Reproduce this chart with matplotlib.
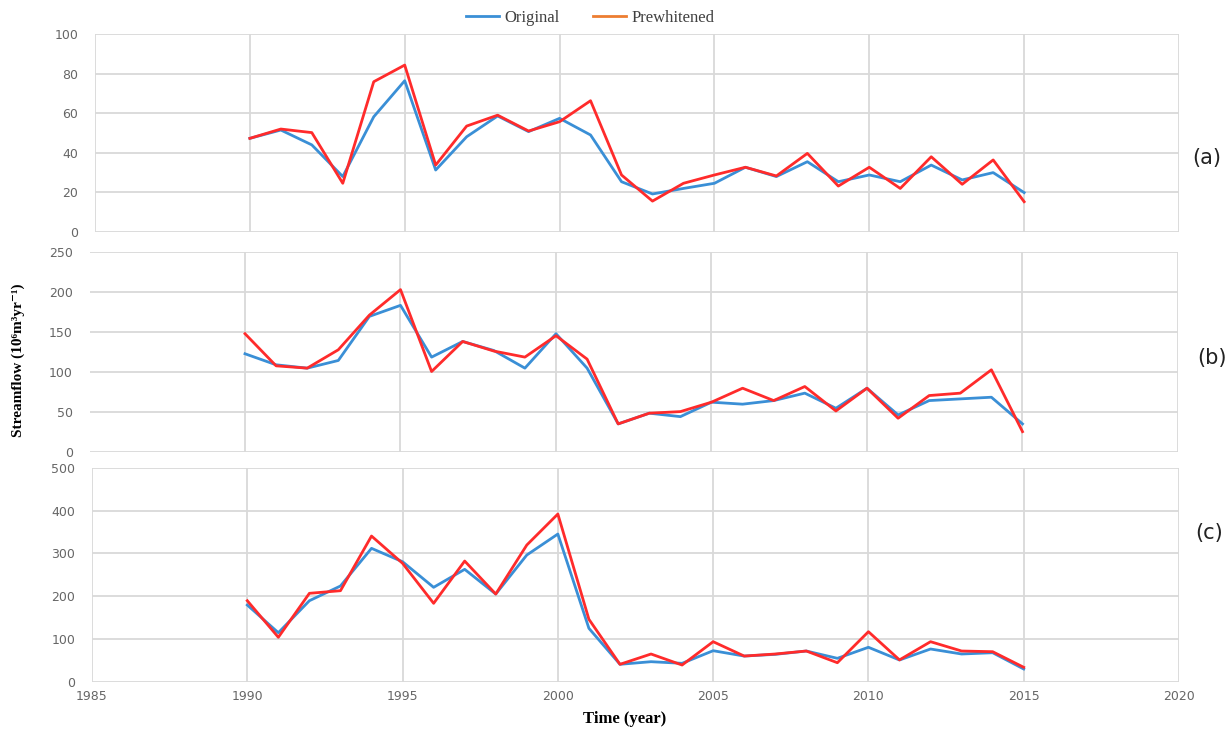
import matplotlib.pyplot as plt
from matplotlib.lines import Line2D

years = list(range(1990, 2016))

# (a)
a_original = [47.3, 51.5, 44.0, 28.0, 58.2, 76.4, 31.3, 48.1, 58.6, 50.7, 57.4, 49.0, 25.4,
              19.2, 22.0, 24.6, 32.7, 28.0, 35.5, 25.4, 28.8, 25.4, 33.8, 26.3, 30.0, 19.9]
a_prewhitened = [47.3, 52.0, 50.2, 24.6, 75.9, 84.3, 33.8, 53.5, 59.0, 51.0, 55.7, 66.3, 28.8,
                 15.6, 24.6, 28.8, 32.7, 28.3, 39.7, 23.2, 32.7, 22.0, 38.0, 24.1, 36.4, 15.3]
# (b)
b_original = [122.6, 108.8, 104.6, 114.2, 169.4, 183.2, 118.4, 138.0, 126.7, 104.6, 147.7, 104.6, 34.8,
              48.2, 43.9, 62.0, 59.5, 64.0, 73.3, 54.4, 79.5, 46.0, 64.0, 66.1, 68.2, 34.8]
b_prewhitened = [147.7, 107.5, 104.6, 127.6, 171.0, 202.9, 100.4, 138.0, 126.0, 118.4, 145.2, 115.9, 34.8,
                 48.2, 50.2, 62.0, 79.5, 64.0, 81.6, 51.0, 79.5, 41.9, 70.3, 73.3, 102.5, 25.1]
# (c)
c_original = [179.4, 114.6, 189.5, 223.9, 312.0, 280.7, 220.8, 262.9, 205.1, 296.4, 345.5, 124.9, 40.7,
              46.8, 43.0, 72.5, 60.0, 64.0, 71.8, 54.7, 80.5, 50.8, 76.5, 64.8, 67.8, 29.7]
c_prewhitened = [189.5, 103.9, 206.8, 212.9, 340.8, 277.0, 183.4, 282.3, 205.1, 319.8, 392.3, 146.0, 40.7,
                 64.8, 39.0, 93.6, 60.0, 64.8, 71.8, 44.4, 117.0, 51.0, 93.6, 71.8, 70.2, 33.7]

panel_labels = ['(a)', '(b)', '(c)']
y_limits = [(0, 100, 20), (0, 250, 50), (0, 500, 100)]
x_ticks = list(range(1985, 2021, 5))

blue = '#3a8fd6'
red = '#ff2b2b'
legend_orange = '#ed7d31'
grid_col = '#d9d9d9'
tick_col = '#666666'
serif = ['Liberation Serif', 'DejaVu Serif']

W, H = 1228, 735
fig = plt.figure(figsize=(W / 100, H / 100), dpi=100)

# axes boxes in pixels: left, top, right, bottom
boxes = [(95, 34, 1179, 232), (89.5, 252, 1178, 451.7), (92, 468, 1179, 681.7)]
series = [(a_original, a_prewhitened), (b_original, b_prewhitened), (c_original, c_prewhitened)]
label_pos = [(1192, 158), (1197, 358), (1195, 533)]

for i, (box, (orig, prew), (ymin, ymax, step)) in enumerate(zip(boxes, series, y_limits)):
    l, t, r, b = box
    ax = fig.add_axes([l / W, 1 - b / H, (r - l) / W, (b - t) / H])
    ax.plot(years, orig, color=blue, lw=2)
    ax.plot(years, prew, color=red, lw=2)
    ax.set_xlim(1985, 2020)
    ax.set_ylim(ymin, ymax)
    ax.set_xticks(x_ticks)
    ax.set_yticks(list(range(ymin, ymax + 1, step)))
    ax.grid(True, color=grid_col, lw=1.3)
    ax.set_axisbelow(True)
    for s in ax.spines.values():
        s.set_visible(False)
    ax.tick_params(length=0, labelsize=9, colors=tick_col, pad=12)
    if i < 2:
        ax.set_xticklabels([])
    else:
        ax.tick_params(axis='x', pad=6)
    fig.text(label_pos[i][0] / W, 1 - label_pos[i][1] / H, panel_labels[i],
             fontsize=15, ha='left', va='center', color='#222222')

fig.text(18 / W, 1 - 360 / H, 'Streamflow (10⁶m³yr⁻¹)', rotation=90,
         fontsize=11, fontweight='bold', family=serif, ha='center', va='center')
fig.text(625 / W, 1 - 719 / H, 'Time (year)', fontsize=12, fontweight='bold',
         family=serif, ha='center', va='center')

handles = [Line2D([], [], color=blue, lw=2), Line2D([], [], color=legend_orange, lw=2)]
leg = fig.legend(handles, ['Original', 'Prewhitened'], loc='center', bbox_to_anchor=(590 / W, 1 - 18 / H),
                 ncol=2, frameon=False, prop={'family': serif, 'size': 12},
                 handlelength=2.0, handletextpad=0.3, columnspacing=2.0)
for txt in leg.get_texts():
    txt.set_color('#404040')

fig.savefig('out.png', dpi=100)
